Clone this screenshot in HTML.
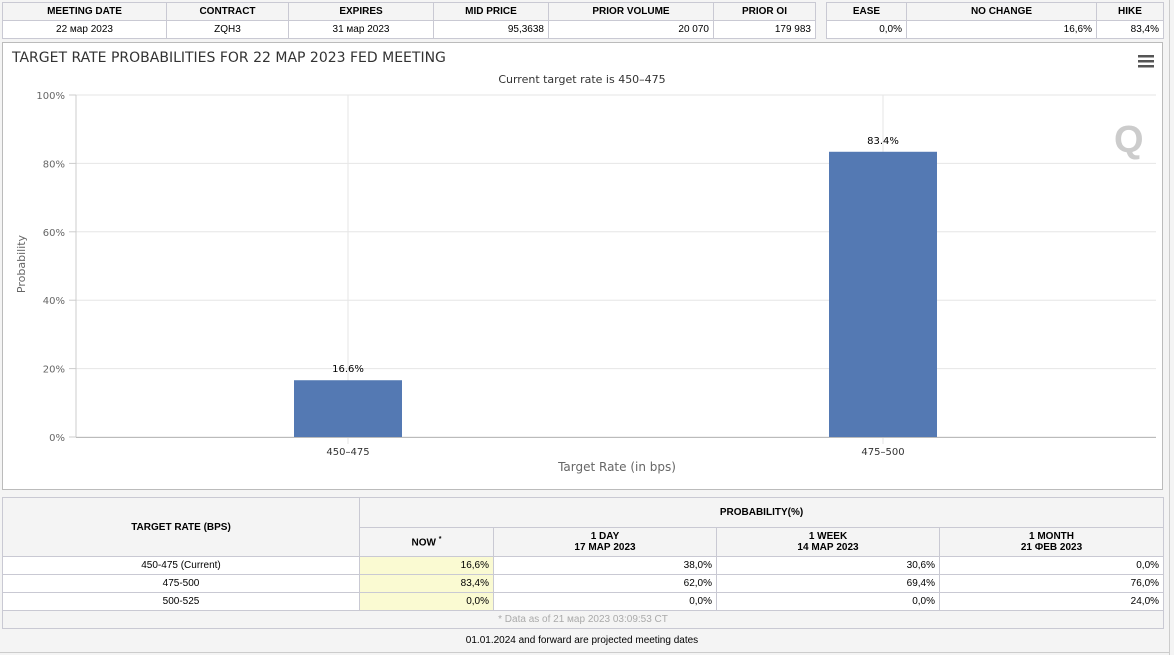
<!DOCTYPE html>
<html><head><meta charset="utf-8">
<style>
*{box-sizing:border-box;margin:0;padding:0}
body{width:1174px;height:655px;background:#f4f4f4;font-family:"Liberation Sans",Arial,sans-serif;position:relative;overflow:hidden;font-size:11px;color:#000}
table{border-collapse:collapse;position:absolute;background:#fff;table-layout:fixed}
td,th{border:1px solid #c9c9d3;font-size:10px;padding:0 4px;height:18px;white-space:nowrap}
th{background:#f4f4f4;font-weight:bold;text-align:center}
td.c{text-align:center}td.r{text-align:right}
.now{background:#fafad2}
#chart{position:absolute;left:2px;top:42px;width:1161px;height:448px;background:#fff;border:1px solid #bbb}
#rline{position:absolute;left:1169px;top:0;width:1px;height:655px;background:#ccc}
</style></head><body>
<div id="rline"></div>
<table style="left:2px;top:2px;width:813px">
<colgroup><col style="width:164px"><col style="width:122px"><col style="width:145px"><col style="width:115px"><col style="width:165px"><col style="width:102px"></colgroup>
<tr><th>MEETING DATE</th><th>CONTRACT</th><th>EXPIRES</th><th>MID PRICE</th><th>PRIOR VOLUME</th><th>PRIOR OI</th></tr>
<tr><td class="c">22 мар 2023</td><td class="c">ZQH3</td><td class="c">31 мар 2023</td><td class="r">95,3638</td><td class="r">20 070</td><td class="r">179 983</td></tr>
</table>
<table style="left:826px;top:2px;width:337px">
<colgroup><col style="width:80px"><col style="width:190px"><col style="width:67px"></colgroup>
<tr><th>EASE</th><th>NO CHANGE</th><th>HIKE</th></tr>
<tr><td class="r">0,0%</td><td class="r">16,6%</td><td class="r">83,4%</td></tr>
</table>

<div id="chart">
<svg id="svg" width="1161" height="448" style="position:absolute;left:-1px;top:-1px" font-family="'DejaVu Sans',sans-serif">
<text x="10" y="20" font-size="14" fill="#333">TARGET RATE PROBABILITIES FOR 22 МАР 2023 FED MEETING</text>
<text x="580" y="41" font-size="11" fill="#333" text-anchor="middle">Current target rate is 450–475</text>
<g fill="#555"><rect x="1136" y="13" width="16" height="2.5"/><rect x="1136" y="18" width="16" height="2.5"/><rect x="1136" y="23" width="16" height="2.5"/></g>
<text x="1112" y="110" font-size="38" font-weight="bold" fill="#ccc" font-family="'Liberation Sans',sans-serif">Q</text>
<g id="plot"></g>
<text transform="translate(23,222) rotate(-90)" font-size="11" fill="#666" text-anchor="middle">Probability</text>
<text x="615" y="429" font-size="12" fill="#666" text-anchor="middle">Target Rate (in bps)</text>
</svg>
</div>

<table style="left:2px;top:497px;width:1161px">
<colgroup><col style="width:357px"><col style="width:134px"><col style="width:223px"><col style="width:223px"><col style="width:224px"></colgroup>
<tr style="height:30px"><th rowspan="2" style="background:#f4f4f4">TARGET RATE (BPS)</th><th colspan="4" style="height:30px">PROBABILITY(%)</th></tr>
<tr style="height:29px"><th>NOW <sup style="font-size:7px">*</sup></th><th>1 DAY<br>17 МАР 2023</th><th>1 WEEK<br>14 МАР 2023</th><th>1 MONTH<br>21 ФЕВ 2023</th></tr>
<tr><td class="c">450-475 (Current)</td><td class="r now">16,6%</td><td class="r">38,0%</td><td class="r">30,6%</td><td class="r">0,0%</td></tr>
<tr><td class="c">475-500</td><td class="r now">83,4%</td><td class="r">62,0%</td><td class="r">69,4%</td><td class="r">76,0%</td></tr>
<tr><td class="c">500-525</td><td class="r now">0,0%</td><td class="r">0,0%</td><td class="r">0,0%</td><td class="r">24,0%</td></tr>
<tr><td colspan="5" class="c" style="background:#f4f4f4;color:#aaa">* Data as of 21 мар 2023 03:09:53 CT</td></tr>
</table>
<div style="position:absolute;left:0;top:635px;width:1164px;text-align:center;font-size:10px">01.01.2024 and forward are projected meeting dates</div>
<div style="position:absolute;left:0;top:652px;width:1169px;height:1px;background:#ccc"></div>

<script>
const categories = ["450–475", "475–500"];
const values = [16.6, 83.4];
const yTicks = [0, 20, 40, 60, 80, 100];
const yTickLabels = ["0%", "20%", "40%", "60%", "80%", "100%"];

const NS = "http://www.w3.org/2000/svg";
const plot = document.getElementById("plot");
const pLeft = 74, pRight = 1154, pTop = 53, pBottom = 395;
const catLeft = 78.5, catRight = 1148.5;
function yScale(v){ return pBottom - (v/100)*(pBottom-pTop); }
function xc(i){ const w=(catRight-catLeft)/categories.length; return catLeft + w*(i+0.5); }
function mk(tag, attrs){ const e=document.createElementNS(NS,tag); for(const k in attrs) e.setAttribute(k,attrs[k]); plot.appendChild(e); return e; }

yTicks.forEach((t,i)=>{
  const g = mk("line",{x1:pLeft,x2:pRight,y1:yScale(t),y2:yScale(t),stroke:"#e6e6e6"});
  
  
  const tk = mk("line",{x1:pLeft-7,x2:pLeft,y1:yScale(t),y2:yScale(t),stroke:"#ccc"});
  
  
  const lb = mk("text",{x:pLeft-11,y:yScale(t)+4,"font-size":10,fill:"#666","text-anchor":"end"});
  lb.textContent = yTickLabels[i];
  
  
});
categories.forEach((c,i)=>{
  const vg = mk("line",{x1:xc(i),x2:xc(i),y1:pTop,y2:pBottom+7,stroke:"#e6e6e6"});
  
  
});
const ax = mk("line",{x1:pLeft,x2:pLeft,y1:pTop,y2:pBottom,stroke:"#ccc"});


const bx = mk("line",{x1:pLeft,x2:pRight,y1:pBottom+0.5,y2:pBottom+0.5,stroke:"#bbb"});


const bw = 108;
categories.forEach((c,i)=>{
  const r = mk("rect",{x:xc(i)-bw/2,y:yScale(values[i]),width:bw,height:pBottom-yScale(values[i]),fill:"#5479b3"});
  
  
  const vl = mk("text",{x:xc(i),y:yScale(values[i])-8,"font-size":10,fill:"#000","text-anchor":"middle"});
  vl.textContent = values[i].toFixed(1)+"%";
  
  
  const xl = mk("text",{x:xc(i),y:pBottom+18,"font-size":10,fill:"#333","text-anchor":"middle"});
  xl.textContent = c;
  
  
});
</script>
</body></html>
